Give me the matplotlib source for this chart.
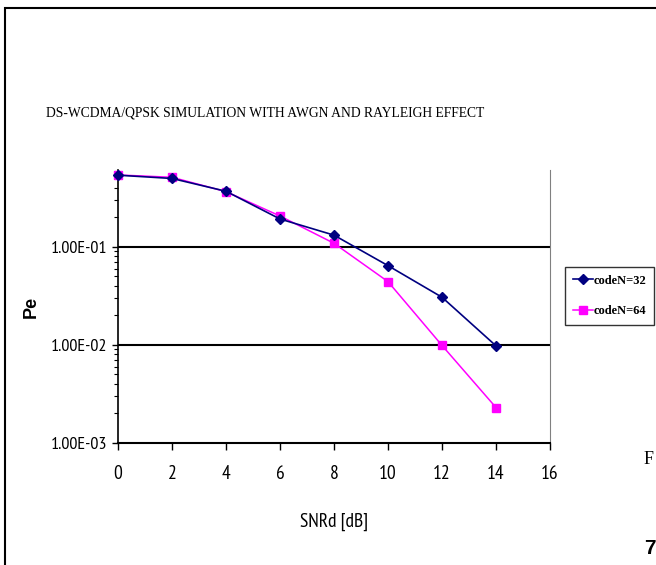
import matplotlib
matplotlib.use("Agg")
import matplotlib.pyplot as plt
from matplotlib.patches import Rectangle
from matplotlib.ticker import LogLocator, FixedLocator, NullFormatter

snr = [0, 2, 4, 6, 8, 10, 12, 14]
pe_32 = [0.54, 0.50, 0.37, 0.193, 0.132, 0.0645, 0.0307, 0.0098]
pe_64 = [0.543, 0.514, 0.367, 0.207, 0.109, 0.0443, 0.0099, 0.0023]
labels = ["codeN=32", "codeN=64"]
ytick_vals = [1e-3, 1e-2, 1e-1]
ytick_labels = ["1.00E-03", "1.00E-02", "1.00E-01"]
xtick_vals = [0, 2, 4, 6, 8, 10, 12, 14, 16]

narrow = ["PT Sans Narrow", "Archivo Narrow", "DejaVu Sans"]
serif = ["Liberation Serif", "DejaVu Serif"]

W, H = 656, 565
fig = plt.figure(figsize=(W / 100, H / 100), dpi=100)

# outer frame of the original document
fig.patches.append(Rectangle((5 / W, -0.1), 1.2, 1 - 8 / H + 0.1, transform=fig.transFigure,
                             fill=False, edgecolor="black", linewidth=1.5))

ax = fig.add_axes([118 / W, 1 - 443 / H, (550 - 118) / W, (443 - 170) / H])
ax.set_yscale("log")
ax.set_xlim(0, 16)
ax.set_ylim(1e-3, 0.61)

ax.plot(snr, pe_32, color="#000080", marker="D", markersize=5, linewidth=1.2,
        label=labels[0], zorder=4, clip_on=False)
ax.plot(snr, pe_64, color="#FF00FF", marker="s", markersize=5.5, linewidth=1.1,
        label=labels[1], zorder=3, clip_on=False)

for v in [1e-1, 1e-2]:
    ax.axhline(v, color="black", linewidth=1.5, zorder=2)

ax.spines["top"].set_visible(False)
ax.spines["right"].set_color("#808080")
ax.spines["right"].set_linewidth(0.8)
ax.spines["left"].set_linewidth(1.2)
ax.spines["bottom"].set_linewidth(1.5)

ax.yaxis.set_major_locator(FixedLocator(ytick_vals))
ax.set_yticklabels(ytick_labels, fontfamily=narrow, fontsize=13)
ax.yaxis.set_minor_locator(LogLocator(base=10, subs=range(2, 10)))
ax.yaxis.set_minor_formatter(NullFormatter())
ax.tick_params(axis="y", which="major", direction="out", length=4, width=1, pad=4)
ax.tick_params(axis="y", which="minor", direction="out", length=3, width=0.8)

ax.set_xticks(xtick_vals)
ax.set_xticklabels([str(v) for v in xtick_vals], fontfamily=narrow, fontsize=14)
ax.tick_params(axis="x", direction="out", length=5, width=1, pad=11)

ax.set_xlabel("SNRd [dB]", fontfamily=narrow, fontsize=14, labelpad=21)
ax.set_ylabel("Pe", fontfamily="Liberation Sans", fontweight="bold", fontsize=13, labelpad=8)

fig.text(265 / W, 1 - 113 / H, "DS-WCDMA/QPSK SIMULATION WITH AWGN AND RAYLEIGH EFFECT",
         ha="center", va="center", fontfamily=serif, fontsize=9.8)

leg = fig.legend(loc="center left", bbox_to_anchor=(565 / W, 1 - 296 / H), frameon=True,
                 prop={"family": serif, "weight": "bold", "size": 9},
                 handlelength=1.6, handletextpad=0.1, borderpad=0.6, labelspacing=1.5,
                 fancybox=False, borderaxespad=0)
leg.get_frame().set_edgecolor("black")
leg.get_frame().set_linewidth(1.0)

fig.text(644 / W, 1 - 460 / H, "F", fontfamily=serif, fontsize=13, va="center", ha="left")
fig.text(644 / W, 1 - 548 / H, "7", fontfamily="Liberation Sans", fontweight="bold",
         fontsize=15, va="center", ha="left")

fig.savefig("out.png", dpi=100)
